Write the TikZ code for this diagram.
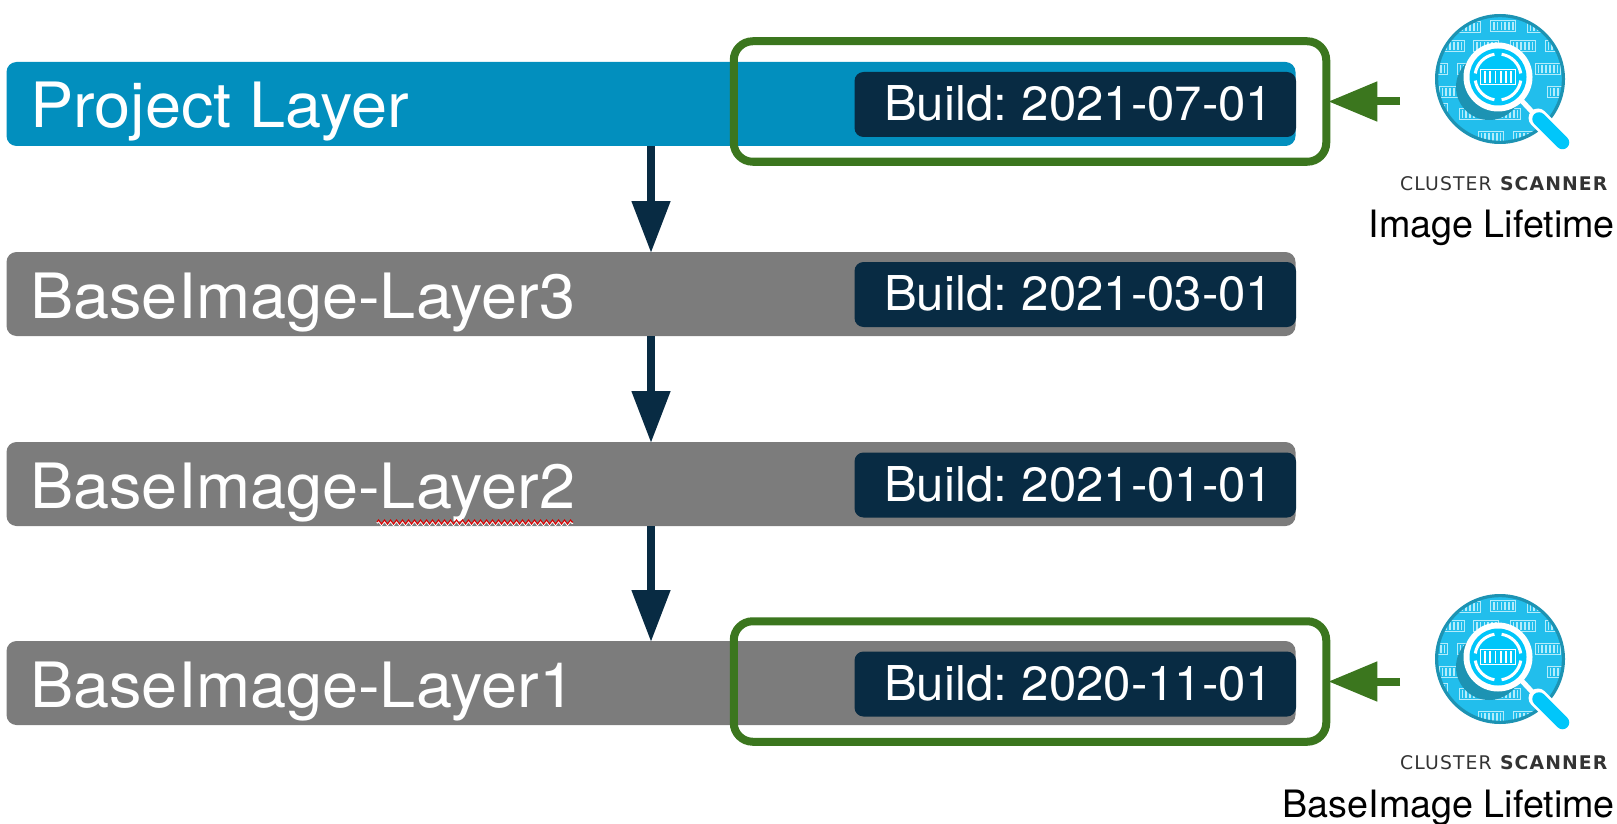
\documentclass[tikz,border=0pt]{standalone}
\usepackage{fontspec}
\setmainfont{TeX Gyre Heros}
\newfontfamily\titlefont[FakeStretch=1.038]{TeX Gyre Heros}
\newfontfamily\buildfont[FakeStretch=1.024,WordSpace=0.75]{TeX Gyre Heros}
\newfontfamily\logofont[LetterSpace=6]{DejaVu Sans}
\usetikzlibrary{arrows.meta,decorations.pathmorphing}
\definecolor{barblue}{HTML}{028FBE}
\definecolor{bargrey}{HTML}{7C7C7C}
\definecolor{navy}{HTML}{082B43}
\definecolor{framegreen}{HTML}{3B761E}
\definecolor{iconbase}{HTML}{22BEEC}
\definecolor{iconring}{HTML}{1D93B3}
\definecolor{iconlens}{HTML}{00C6FA}
\definecolor{iconbox}{HTML}{B4ECFB}
\definecolor{logotext}{HTML}{333333}
\newcommand{\boxctn}[3]{%
  \begin{scope}[shift={(#1,#2)}]
    \draw[#3,line width=1.1pt] (-12.5,-5.5) rectangle (12.5,5.5);
    \foreach \bx in {-9.5,-5.7,-1.9,1.9,5.7,9.5}
      \draw[#3,line width=1.7pt] (\bx,-4) -- (\bx,4);
  \end{scope}}
\tikzset{
  x=1pt,y=-1pt,
  layerbar/.style={rounded corners=10pt,minimum width=1289pt,minimum height=84pt,inner sep=0pt,outer sep=0pt},
  buildbox/.style={fill=navy,rounded corners=9pt,minimum width=441.5pt,minimum height=65pt,inner sep=0pt,outer sep=0pt},
  titletext/.style={anchor=base west,text=white,inner sep=0pt,font=\titlefont\fontsize{62.5}{62.5}\selectfont},
  buildtext/.style={anchor=base west,text=white,inner sep=0pt,font=\buildfont\fontsize{48}{48}\selectfont},
  logotext/.style={anchor=base west,text=logotext,inner sep=0pt,font=\logofont\fontsize{18.8}{18.8}\selectfont},
  lifetext/.style={anchor=base east,text=black,inner sep=0pt,font=\fontsize{37.7}{37.7}\selectfont},
  frame/.style={draw=framegreen,line width=8pt,rounded corners=19pt,minimum width=592.5pt,minimum height=120.5pt,inner sep=0pt},
  flow/.style={draw=navy,line width=8pt,shorten >=-1pt,-{Triangle[length=52pt,width=37pt]}},
  pointer/.style={draw=framegreen,line width=8pt,shorten >=-2pt,-{Triangle[length=49pt,width=38pt]}},
  scanner/.pic={
    \fill[iconbase] (0,0) circle[radius=64];
    \begin{scope}
      \clip (0,0) circle[radius=64];
      \boxctn{3.3}{-53}{iconbox}\boxctn{-32}{-52}{iconbox}\boxctn{40}{-52}{iconbox}
      \boxctn{-48}{-33}{iconbox}\boxctn{-13.7}{-33}{iconbox}\boxctn{23}{-33}{iconbox}\boxctn{58}{-33}{iconbox}
      \boxctn{-65}{-10}{iconbox}\boxctn{-30}{-10}{iconbox}\boxctn{48}{-10}{iconbox}
      \boxctn{-48}{12.7}{iconbox}\boxctn{60}{12.7}{iconbox}
      \boxctn{-65}{30}{iconbox}\boxctn{-28}{35}{iconbox}\boxctn{8}{35}{iconbox}
      \boxctn{-9}{58}{iconbox}\boxctn{26}{58}{iconbox}
      \fill[iconring] (-11,8) circle[radius=33];
    \end{scope}
    \draw[iconring,line width=3.2pt] (0,0) circle[radius=63.4];
    \draw[white,line width=5pt] (22,22) -- (36,37);
    \draw[white,line width=19pt,line cap=round] (38,39) -- (46,47);
    \draw[iconlens,line width=13.5pt,line cap=round] (39,40) -- (62.5,63.5);
    \fill[white] (-2,-2) circle[radius=34.5];
    \fill[iconlens] (-2,-2) circle[radius=28.5];
    \begin{scope}[shift={(-2,-2)}]
      \foreach \a in {0,90,180,270}
        \draw[white,line width=3pt] ({\a+9}:23) arc[start angle={\a+9},end angle={\a+81},radius=23];
    \end{scope}
    \begin{scope}[shift={(-2,-2)},scale=1.4]
      \boxctn{0}{0}{white}
    \end{scope}
  }
}
\begin{document}
\begin{tikzpicture}
\useasboundingbox (0,0) rectangle (1617,824);
% layer bars
\node[layerbar,fill=barblue] (project) at (651,104) {};
\node[layerbar,fill=bargrey] (layer3) at (651,294) {};
\node[layerbar,fill=bargrey] (layer2) at (651,484) {};
\node[layerbar,fill=bargrey] (layer1) at (651,683) {};
% titles
\node[titletext] (tproject) at (30,128) {Project Layer};
\node[titletext] (tlayer3) at (30,318) {BaseImage-Layer3};
\node[titletext] (tlayer2) at (30,508) {BaseImage-Layer2};
\node[titletext] (tlayer1) at (30,707) {BaseImage-Layer1};
% squiggle
\coordinate (sqa) at (377,522);
\coordinate (sqb) at (573,522);
\draw[white,line width=1.4pt,decorate,decoration={zigzag,segment length=6pt,amplitude=2pt}] ([yshift=-1.2pt]sqa) -- ([yshift=-1.2pt]sqb);
\draw[red!85!black,line width=1.1pt,decorate,decoration={zigzag,segment length=6pt,amplitude=2pt}] (sqa) -- (sqb);
% build boxes
\node[buildbox] (bproject) at (1075.25,104.5) {};
\node[buildbox] (blayer3) at (1075.25,294.5) {};
\node[buildbox] (blayer2) at (1075.25,485) {};
\node[buildbox] (blayer1) at (1075.25,684) {};
\node[buildtext] (dproject) at (884,121) {Build: 2021-07-01};
\node[buildtext] (dlayer3) at (884,310.5) {Build: 2021-03-01};
\node[buildtext] (dlayer2) at (884,501.5) {Build: 2021-01-01};
\node[buildtext] (dlayer1) at (884,700.5) {Build: 2020-11-01};
% flow arrows
\draw[flow] (project.south) -- (layer3.north);
\draw[flow] (layer3.south) -- (layer2.north);
\draw[flow] (layer2.south) -- (layer1.north);
% frames
\node[frame] (frameA) at (1030,101.5) {};
\node[frame] (frameB) at (1030,681.5) {};
\coordinate (srcA) at (1400,101.5);
\coordinate (srcB) at (1400,681.5);
\draw[pointer] (srcA) -- (frameA.east);
\draw[pointer] (srcB) -- (frameB.east);
% icons
\pic at (1500,79) {scanner};
\pic at (1500,659) {scanner};
\node[logotext] (logoA) at (1400,190) {CLUSTER \textbf{SCANNER}};
\node[logotext] (logoB) at (1400,769) {CLUSTER \textbf{SCANNER}};
\node[lifetext] (lifeA) at (1615,237) {Image Lifetime};
\node[lifetext] (lifeB) at (1615,817) {BaseImage Lifetime};
\end{tikzpicture}
\end{document}
